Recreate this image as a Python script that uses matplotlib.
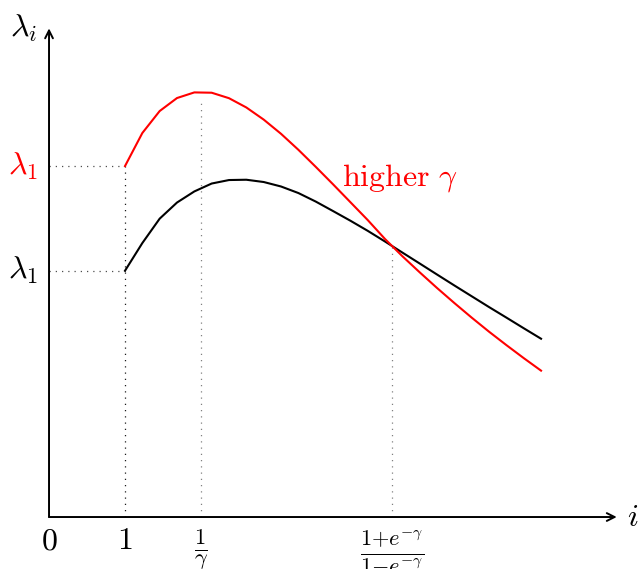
import matplotlib.pyplot as plt

plt.rcParams['mathtext.fontset'] = 'cm'
plt.rcParams['font.family'] = 'serif'
plt.rcParams['font.serif'] = ['DejaVu Serif']

# sampled eigenvalue profiles lambda_i over i
i_vals = [1.000, 1.228, 1.456, 1.684, 1.912, 2.140, 2.368, 2.596, 2.825, 3.053, 3.281, 3.509,
          3.737, 3.965, 4.193, 4.421, 4.649, 4.877, 5.105, 5.333, 5.561, 5.789, 6.018, 6.246, 6.474]
lam_low = [3.241, 3.605, 3.926, 4.138, 4.284, 4.388, 4.434, 4.438, 4.408, 4.349, 4.263, 4.151,
           4.026, 3.899, 3.766, 3.625, 3.480, 3.336, 3.191, 3.047, 2.905, 2.763, 2.624, 2.484, 2.346]
lam_high = [4.618, 5.053, 5.342, 5.513, 5.587, 5.583, 5.511, 5.389, 5.229, 5.042, 4.832, 4.608,
            4.378, 4.143, 3.908, 3.658, 3.432, 3.220, 3.014, 2.816, 2.624, 2.439, 2.262, 2.091, 1.926]

x_recip = 2.0      # position of 1/gamma
x_cross = 4.51     # position of (1+e^-g)/(1-e^-g)
y_cross = 3.55
x_max, y_max = 7.47, 6.43

fig = plt.figure(figsize=(6.4, 5.69), dpi=100)
ax = fig.add_axes([0, 0, 1, 1])
ax.set_xlim(-0.645, 7.776)
ax.set_ylim(-0.684, 6.803)
ax.axis('off')

# axes with arrow heads
arw = dict(arrowstyle='->', lw=1.4, color='black', mutation_scale=14, shrinkA=0, shrinkB=0)
ax.annotate('', xy=(x_max, 0), xytext=(0, 0), arrowprops=arw)
ax.annotate('', xy=(0, y_max), xytext=(0, 0), arrowprops=arw)

# guide lines
dot = dict(ls=(0, (1, 4)), lw=0.9)
ax.plot([0, 1], [lam_low[0], lam_low[0]], color='0.3', **dot)
ax.plot([0, 1], [lam_high[0], lam_high[0]], color='0.3', **dot)
ax.plot([1, 1], [0, lam_high[0]], color='0.1', **dot)
ax.plot([x_recip, x_recip], [0, 5.49], color='0.5', **dot)
ax.plot([x_cross, x_cross], [0, y_cross], color='0.5', **dot)

# curves
ax.plot(i_vals, lam_low, color='black', lw=1.5)
ax.plot(i_vals, lam_high, color='red', lw=1.5)

fs = 23
lx = -0.15
ax.text(lx, y_max, r'$\lambda_i$', fontsize=fs, ha='right', va='center')
ax.text(lx, lam_high[0], r'$\lambda_1$', fontsize=fs, ha='right', va='center', color='red')
ax.text(lx, lam_low[0], r'$\lambda_1$', fontsize=fs, ha='right', va='center')
ax.text(x_max + 0.13, 0, r'$i$', fontsize=fs, ha='left', va='center')
ax.text(0, -0.11, r'$0$', fontsize=fs, ha='center', va='top')
ax.text(1, -0.11, r'$1$', fontsize=fs, ha='center', va='top')
ax.text(x_recip, -0.13, r'$\frac{1}{\gamma}$', fontsize=fs, ha='center', va='top')
ax.text(x_cross, -0.15, r'$\frac{1{+}e^{-\gamma}}{1{-}e^{-\gamma}}$', fontsize=fs,
        ha='center', va='top')
ax.text(4.62, 4.46, r'$\mathrm{higher}\ \gamma$', fontsize=fs, ha='center', va='center', color='red')

fig.savefig('out.png', dpi=100)
